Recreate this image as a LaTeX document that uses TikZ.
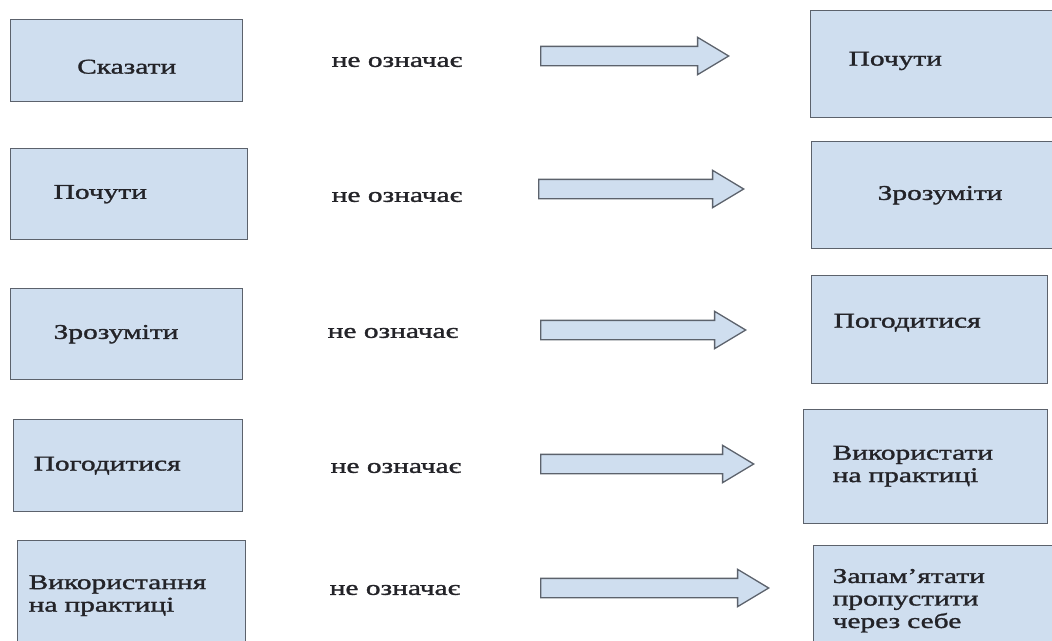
\documentclass[tikz,border=0pt]{standalone}
\usepackage{fontspec}
\setmainfont{Liberation Serif}[FakeStretch=1.4, FakeBold=1.4]
\usepackage{tikz}
\usetikzlibrary{shapes.arrows}
\definecolor{azulclaro}{RGB}{207,222,239}
\definecolor{cinzaborda}{RGB}{92,98,108}
\definecolor{tinta}{RGB}{35,35,40}
\tikzset{
  caixa/.style={draw=cinzaborda, line width=1.4pt, fill=azulclaro, align=left, anchor=north west, inner ysep=0pt, text=tinta, font=\fontsize{21}{22.5}\selectfont},
  seta/.style={single arrow, draw=cinzaborda, fill=azulclaro, line width=1.3pt, inner xsep=0pt, inner ysep=9pt, single arrow head extend=9pt, single arrow tip angle=62, anchor=west},
  nega/.style={text=tinta, font=\fontsize{21}{22.5}\selectfont},
}

\begin{document}
\begin{tikzpicture}[x=1pt, y=-1pt]
  \useasboundingbox (0,0) rectangle (1052,640);
  \clip (0,0) rectangle (1052,640);
  \node[caixa, align=center, text width=232pt, inner xsep=0pt, minimum height=82pt, text height=26pt] (sk) at (10,19) {Сказати};
  \node[caixa, text width=151pt, inner xsep=43pt, minimum height=91pt] (po) at (10,148) {Почути};
  \node[caixa, text width=146pt, inner xsep=43pt, minimum height=91pt] (zr) at (10,288) {Зрозуміти};
  \node[caixa, text width=189pt, inner xsep=20pt, minimum height=92pt] (pg) at (13,419) {Погодитися};
  \node[caixa, text width=206pt, inner xsep=11pt, minimum height=110pt] (vk) at (17,540) {Використання\\на практиці};
  \node[nega] (n1) at (397,62) {не означає};
  \node[nega] (n2) at (397,197) {не означає};
  \node[nega] (n3) at (393,333) {не означає};
  \node[nega] (n4) at (396,468) {не означає};
  \node[nega] (n5) at (395,590) {не означає};
  \node[seta, minimum height=188pt] (a1) at (540,56) {};
  \node[seta, minimum height=205pt] (a2) at (538,189) {};
  \node[seta, minimum height=205pt] (a3) at (540,330) {};
  \node[seta, minimum height=213pt] (a4) at (540,464) {};
  \node[seta, minimum height=228pt] (a5) at (540,588) {};
  \node[caixa, text width=174pt, inner xsep=38pt, minimum height=107pt, text depth=11pt] (po2) at (810,10) {Почути};
  \node[caixa, text width=130pt, inner xsep=66pt, minimum height=107pt] (zr2) at (811,141) {Зрозуміти};
  \node[caixa, text width=192pt, inner xsep=22pt, minimum height=108pt, text depth=18pt] (pg2) at (811,275) {Погодитися};
  \node[caixa, text width=186pt, inner xsep=29pt, minimum height=114pt, text depth=28pt] (vp) at (803,409) {Використати\\на практиці};
  \node[caixa, text width=212pt, inner xsep=19pt, minimum height=110pt] (zp) at (813,545) {Запам’ятати\\пропустити\\через себе};
\end{tikzpicture}
\end{document}
